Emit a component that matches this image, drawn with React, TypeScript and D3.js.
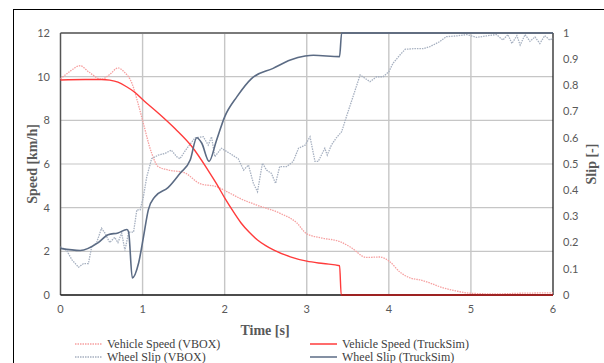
import React from "react";
import * as d3 from "d3";

// time axis ticks and speed / slip ticks
const timeTicks = [0, 1, 2, 3, 4, 5, 6];
const speedTicks = [0, 2, 4, 6, 8, 10, 12];
const slipTicks = [0, 0.1, 0.2, 0.3, 0.4, 0.5, 0.6, 0.7, 0.8, 0.9, 1];

// Vehicle Speed (TruckSim) [km/h]
const truckSpeedTime = [0, 0.3, 0.5, 0.6, 0.7, 0.8, 0.9, 1.0, 1.2, 1.4, 1.6, 1.8, 1.9, 2.0, 2.1, 2.2, 2.3, 2.4, 2.5, 2.6, 2.8, 3.0, 3.2, 3.4, 3.42, 6];
const truckSpeed = [9.85, 9.87, 9.87, 9.84, 9.75, 9.55, 9.3, 8.95, 8.3, 7.6, 6.8, 5.7, 5.1, 4.45, 3.85, 3.3, 2.87, 2.52, 2.26, 2.06, 1.75, 1.55, 1.44, 1.34, 0, 0];

// Vehicle Speed (VBOX) [km/h]
const vboxSpeedTime = [0, 0.1, 0.24, 0.35, 0.5, 0.6, 0.7, 0.78, 0.87, 0.95, 1.0, 1.11, 1.19, 1.31, 1.51, 1.7, 1.9, 2.06, 2.2, 2.39, 2.67, 2.88, 3.0, 3.2, 3.4, 3.53, 3.73, 3.89, 4.01, 4.13, 4.26, 4.38, 4.5, 4.62, 4.8, 4.99, 5.3, 5.6, 6];
const vboxSpeed = [9.9, 10.2, 10.5, 10.2, 9.88, 10.1, 10.4, 10.2, 9.7, 8.7, 8.0, 6.5, 5.88, 5.73, 5.6, 5.1, 4.96, 4.67, 4.4, 4.12, 3.75, 3.3, 2.8, 2.6, 2.45, 2.2, 1.72, 1.74, 1.53, 1.07, 0.78, 0.69, 0.55, 0.38, 0.2, 0.08, 0.05, 0.08, 0.1];

// Wheel Slip (TruckSim) [-]
const truckSlipTime = [0, 0.24, 0.46, 0.58, 0.7, 0.81, 0.83, 0.875, 0.95, 1.01, 1.07, 1.15, 1.31, 1.455, 1.58, 1.66, 1.72, 1.81, 1.9, 2.0, 2.15, 2.33, 2.59, 2.8, 2.98, 3.08, 3.4, 3.425, 6];
const truckSlip = [0.178, 0.17, 0.2, 0.23, 0.237, 0.25, 0.24, 0.065, 0.12, 0.22, 0.325, 0.375, 0.41, 0.464, 0.515, 0.6, 0.58, 0.51, 0.59, 0.68, 0.757, 0.827, 0.865, 0.897, 0.912, 0.915, 0.91, 1, 1];

// Wheel Slip (VBOX) [-]
const vboxSlipTime = [0, 0.075, 0.14, 0.22, 0.28, 0.34, 0.38, 0.44, 0.5, 0.54, 0.6, 0.66, 0.7, 0.745, 0.785, 0.83, 0.89, 0.93, 0.97, 1.01, 1.05, 1.11, 1.19, 1.27, 1.35, 1.415, 1.455, 1.54, 1.64, 1.74, 1.8, 1.84, 1.88, 1.96, 2.065, 2.165, 2.23, 2.29, 2.35, 2.4, 2.46, 2.51, 2.57, 2.62, 2.67, 2.755, 2.835, 2.9, 2.98, 3.04, 3.1, 3.14, 3.22, 3.25, 3.3, 3.36, 3.425, 3.49, 3.53, 3.59, 3.65, 3.71, 3.77, 3.85, 3.93, 4.0, 4.05, 4.135, 4.2, 4.3, 4.42, 4.5, 4.62, 4.7, 4.83, 4.95, 5.07, 5.19, 5.31, 5.39, 5.45, 5.5, 5.56, 5.6, 5.66, 5.72, 5.78, 5.84, 5.9, 5.96, 6];
const vboxSlip = [0.184, 0.17, 0.134, 0.106, 0.12, 0.12, 0.184, 0.2, 0.255, 0.237, 0.2, 0.22, 0.2, 0.237, 0.17, 0.24, 0.24, 0.325, 0.325, 0.375, 0.45, 0.52, 0.534, 0.54, 0.553, 0.528, 0.52, 0.56, 0.6, 0.604, 0.572, 0.604, 0.528, 0.56, 0.54, 0.52, 0.477, 0.496, 0.426, 0.394, 0.503, 0.477, 0.464, 0.426, 0.49, 0.49, 0.51, 0.56, 0.572, 0.604, 0.51, 0.51, 0.56, 0.534, 0.572, 0.6, 0.623, 0.687, 0.725, 0.782, 0.84, 0.827, 0.814, 0.833, 0.833, 0.852, 0.884, 0.916, 0.938, 0.94, 0.94, 0.948, 0.967, 0.986, 0.989, 0.994, 0.983, 0.989, 0.994, 0.973, 0.994, 0.96, 0.99, 0.954, 0.994, 0.968, 0.985, 0.96, 0.99, 0.973, 0.98];

const tickFont = "Lato, 'Open Sans', sans-serif";
const titleFont = "'Liberation Serif', 'DejaVu Serif', serif";

export default function App() {
  const x = d3.scaleLinear().domain([0, 6]).range([60.5, 553]);
  const ySpeed = d3.scaleLinear().domain([0, 12]).range([295, 33]);
  const ySlip = d3.scaleLinear().domain([0, 1]).range([295, 33]);

  const speedLine = (ts: number[], vs: number[], curve: d3.CurveFactory) =>
    d3
      .line<number>()
      .x((t) => x(t))
      .y((_, i) => ySpeed(vs[i]))
      .curve(curve)(ts) || "";
  const slipLine = (ts: number[], vs: number[], curve: d3.CurveFactory) =>
    d3
      .line<number>()
      .x((t) => x(t))
      .y((_, i) => ySlip(vs[i]))
      .curve(curve)(ts) || "";

  const legend = [
    { label: "Vehicle Speed (VBOX)", color: "#f6a0a0", dash: "1.5,1", x: 75, y: 344 },
    { label: "Vehicle Speed (TruckSim)", color: "#ff3b3b", dash: "", x: 310, y: 344 },
    { label: "Wheel Slip (VBOX)", color: "#a6b0c0", dash: "1.5,1", x: 75, y: 357 },
    { label: "Wheel Slip (TruckSim)", color: "#5b6b84", dash: "", x: 310, y: 357 },
  ];

  return (
    <div style={{ position: "absolute", left: 0, top: 0 }}>
      <svg width={604} height={363} style={{ display: "block", background: "#fff" }}>
        <rect x={13.5} y={9.5} width={620} height={400} fill="none" stroke="#000" strokeWidth={1} />

        {/* gridlines */}
        {speedTicks.slice(1, -1).map((v) => (
          <line key={"h" + v} x1={x(0)} x2={x(6)} y1={ySpeed(v)} y2={ySpeed(v)} stroke="#c6c6c6" strokeWidth={1.2} />
        ))}
        {timeTicks.slice(1, -1).map((t) => (
          <line key={"v" + t} x1={x(t)} x2={x(t)} y1={ySpeed(12)} y2={ySpeed(0)} stroke="#c6c6c6" strokeWidth={1.4} />
        ))}

        {/* plot frame */}
        <line x1={x(0)} x2={x(6)} y1={33} y2={33} stroke="#7a7a7a" strokeWidth={1.8} />
        <line x1={x(0)} x2={x(0)} y1={33} y2={295} stroke="#555" strokeWidth={1.5} />
        <line x1={x(6)} x2={x(6)} y1={33} y2={295} stroke="#111" strokeWidth={1.2} />
        <line x1={x(0)} x2={x(6)} y1={295} y2={295} stroke="#111" strokeWidth={1.5} />

        {/* series */}
        <path d={speedLine(vboxSpeedTime, vboxSpeed, d3.curveMonotoneX)} fill="none" stroke="#f6a0a0" strokeWidth={1.3} strokeDasharray="1.5,1" />
        <path d={slipLine(vboxSlipTime, vboxSlip, d3.curveLinear)} fill="none" stroke="#a6b0c0" strokeWidth={1.3} strokeDasharray="1.5,1" />
        <path d={speedLine(truckSpeedTime, truckSpeed, d3.curveMonotoneX)} fill="none" stroke="#ff3b3b" strokeWidth={1.4} />
        <line x1={x(3.42)} x2={x(6)} y1={295} y2={295} stroke="#8b1a1a" strokeWidth={1.5} />
        <path d={slipLine(truckSlipTime, truckSlip, d3.curveMonotoneX)} fill="none" stroke="#5b6b84" strokeWidth={1.6} />

        {/* left ticks */}
        {speedTicks.map((v) => (
          <text key={"l" + v} x={50} y={ySpeed(v)} dy="0.35em" textAnchor="end" fontFamily={tickFont} fontSize={11} fill="#595959">
            {v}
          </text>
        ))}
        {/* right ticks */}
        {slipTicks.map((v) => (
          <text key={"r" + v} x={563} y={ySlip(v)} dy="0.35em" textAnchor="start" fontFamily={tickFont} fontSize={11} fill="#595959">
            {v}
          </text>
        ))}
        {/* bottom ticks */}
        {timeTicks.map((t) => (
          <text key={"b" + t} x={x(t)} y={313} textAnchor="middle" fontFamily={tickFont} fontSize={11} fill="#595959">
            {t}
          </text>
        ))}

        {/* axis titles */}
        <text x={265} y={335} textAnchor="middle" fontFamily={titleFont} fontWeight="bold" fontSize={14} fill="#595959">
          Time [s]
        </text>
        <text transform="translate(37,164) rotate(-90)" textAnchor="middle" fontFamily={titleFont} fontWeight="bold" fontSize={14} fill="#595959">
          Speed [km/h]
        </text>
        <text transform="translate(596,164) rotate(-90)" textAnchor="middle" fontFamily={titleFont} fontWeight="bold" fontSize={14} fill="#595959">
          Slip [-]
        </text>

        {/* legend */}
        {legend.map((d) => (
          <g key={d.label}>
            <line x1={d.x} x2={d.x + 27} y1={d.y} y2={d.y} stroke={d.color} strokeWidth={1.5} strokeDasharray={d.dash} />
            <text x={d.x + 32} y={d.y} dy="0.35em" fontFamily={titleFont} fontSize={12} fill="#404040">
              {d.label}
            </text>
          </g>
        ))}
      </svg>
    </div>
  );
}
